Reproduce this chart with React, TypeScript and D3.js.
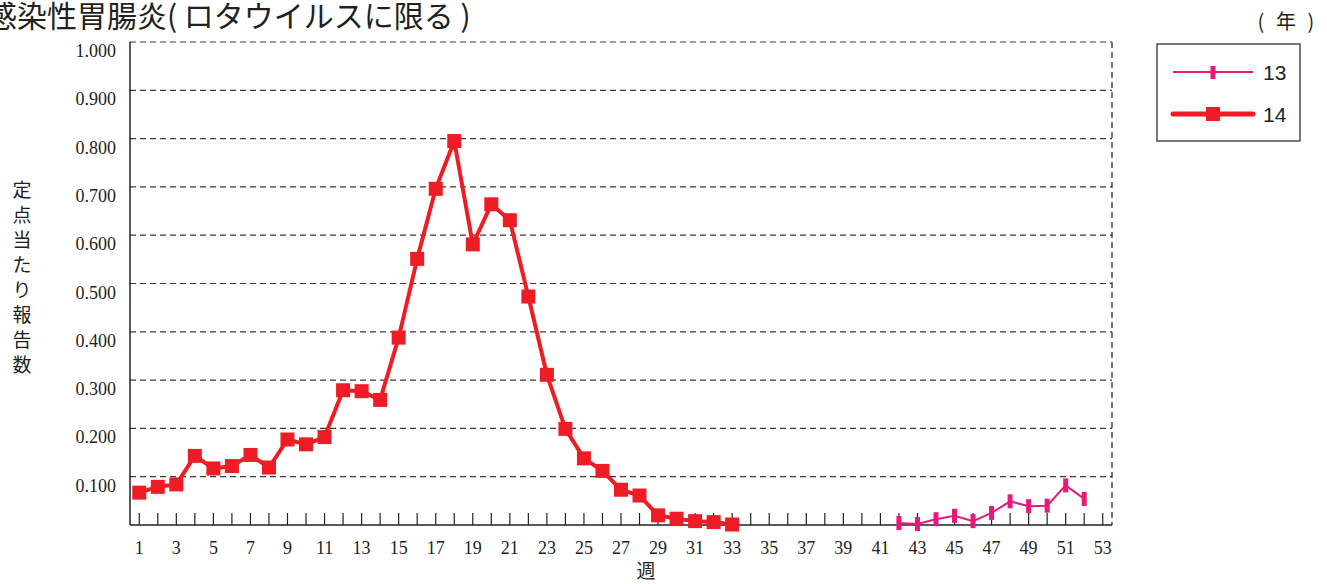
import React from 'react'
import * as d3 from 'd3'

// 週ごとの定点当たり報告数
const weeks14 = d3.range(1, 34)
const values14 = [
  0.067, 0.079, 0.084, 0.143, 0.117, 0.122, 0.145, 0.119, 0.177, 0.167, 0.182,
  0.279, 0.277, 0.259, 0.388, 0.551, 0.696, 0.795, 0.581, 0.664, 0.631, 0.473,
  0.311, 0.199, 0.138, 0.112, 0.073, 0.061, 0.02, 0.013, 0.008, 0.006, 0.001,
]
const weeks13 = d3.range(42, 53)
const values13 = [
  0.004, 0.002, 0.012, 0.019, 0.008, 0.025, 0.049, 0.039, 0.04, 0.082, 0.054,
]
const yTicks = [0.1, 0.2, 0.3, 0.4, 0.5, 0.6, 0.7, 0.8, 0.9, 1.0]
const xLabels = d3.range(1, 54, 2)
const yLabelChars = ['定', '点', '当', 'た', 'り', '報', '告', '数']

const RED = '#ee1c25'
const PINK = '#e8197a'
const SERIF = 'Liberation Serif'
const SANS = 'Noto Sans CJK JP'
const LATIN = 'Liberation Sans'

const W = 1327
const H = 584
const left = 130
const right = 1112
const top = 42
const bottom = 525

type Pt = { w: number; v: number }

const App = (): JSX.Element => {
  const x = d3.scaleLinear().domain([0.5, 53.5]).range([left, right])
  const y = d3.scaleLinear().domain([0, 1]).range([bottom, top])

  const d14: Pt[] = weeks14.map((w, i) => ({ w, v: values14[i] }))
  const d13: Pt[] = weeks13.map((w, i) => ({ w, v: values13[i] }))
  const line = d3
    .line<Pt>()
    .x(d => x(d.w))
    .y(d => y(d.v))

  return (
    <svg
      width={W}
      height={H}
      style={{ position: 'absolute', left: 0, top: 0, background: '#fff' }}
    >
      {/* タイトル */}
      <text x={-13} y={27} fontFamily={SANS} fontSize={30} fill='#231f20'>
        感染性胃腸炎( ロタウイルスに限る )
      </text>

      {/* グリッド */}
      {yTicks.map(t => (
        <line
          key={t}
          x1={left}
          x2={right}
          y1={y(t)}
          y2={y(t)}
          stroke='#3a3a3a'
          strokeWidth={1.2}
          strokeDasharray='6,4'
        />
      ))}
      <line
        x1={right}
        x2={right}
        y1={top}
        y2={bottom}
        stroke='#222'
        strokeWidth={1.2}
        strokeDasharray='6,4'
      />
      <line x1={left} x2={left} y1={top} y2={bottom} stroke='#222' strokeWidth={1.5} />
      <line x1={left} x2={right} y1={bottom} y2={bottom} stroke='#222' strokeWidth={1.5} />

      {/* 週の目盛り */}
      {d3.range(1, 54).map(w => (
        <line
          key={w}
          x1={x(w)}
          x2={x(w)}
          y1={bottom}
          y2={bottom - 12}
          stroke='#222'
          strokeWidth={1.2}
        />
      ))}
      {xLabels.map(w => (
        <text
          key={w}
          x={x(w)}
          y={554}
          textAnchor='middle'
          fontFamily={SERIF}
          fontSize={18}
          fill='#231f20'
        >
          {w}
        </text>
      ))}
      {yTicks.map(t => (
        <text
          key={t}
          x={116}
          y={y(t) + 15}
          textAnchor='end'
          fontFamily={SERIF}
          fontSize={18}
          fill='#231f20'
        >
          {d3.format('.3f')(t)}
        </text>
      ))}

      {/* 軸ラベル */}
      {yLabelChars.map((c, i) => (
        <text
          key={c}
          x={22}
          y={197 + i * 25}
          textAnchor='middle'
          fontFamily={SANS}
          fontSize={19}
          fill='#231f20'
        >
          {c}
        </text>
      ))}
      <text
        x={646}
        y={578}
        textAnchor='middle'
        fontFamily={SANS}
        fontSize={19}
        fill='#231f20'
      >
        週
      </text>

      {/* 13年 */}
      <path d={line(d13) ?? ''} fill='none' stroke={PINK} strokeWidth={2} />
      {d13.map(d => (
        <rect
          key={d.w}
          x={x(d.w) - 2.5}
          y={y(d.v) - 7}
          width={5}
          height={14}
          fill={PINK}
        />
      ))}

      {/* 14年 */}
      <path
        d={line(d14) ?? ''}
        fill='none'
        stroke={RED}
        strokeWidth={4}
        strokeLinejoin='round'
      />
      {d14.map(d => (
        <rect
          key={d.w}
          x={x(d.w) - 7}
          y={y(d.v) - 7}
          width={14}
          height={14}
          fill={RED}
        />
      ))}

      {/* 凡例 */}
      <text x={1261} y={29} textAnchor='middle' fontFamily={SANS} fontSize={20} fill='#231f20'>
        (
      </text>
      <text x={1286} y={29} textAnchor='middle' fontFamily={SANS} fontSize={20} fill='#231f20'>
        年
      </text>
      <text x={1311} y={29} textAnchor='middle' fontFamily={SANS} fontSize={20} fill='#231f20'>
        )
      </text>
      <rect
        x={1157}
        y={44}
        width={143}
        height={97}
        fill='#fff'
        stroke='#333'
        strokeWidth={1.3}
      />
      <line x1={1173} x2={1253} y1={72} y2={72} stroke={PINK} strokeWidth={2} />
      <rect x={1210.5} y={66} width={5} height={13} fill={PINK} />
      <text x={1263} y={80} fontFamily={LATIN} fontSize={21} fill='#231f20'>
        13
      </text>
      <line
        x1={1173}
        x2={1253}
        y1={114}
        y2={114}
        stroke={RED}
        strokeWidth={5}
        strokeLinecap='round'
      />
      <rect x={1206} y={107} width={14} height={14} fill={RED} />
      <text x={1263} y={122} fontFamily={LATIN} fontSize={21} fill='#231f20'>
        14
      </text>
    </svg>
  )
}

export default App
